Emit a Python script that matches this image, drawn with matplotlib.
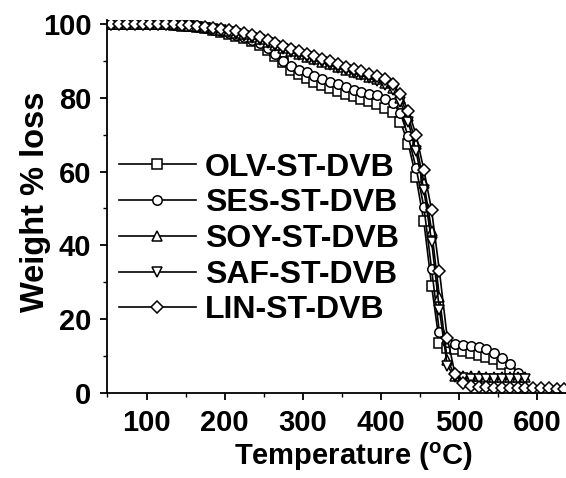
import matplotlib
matplotlib.use("Agg")
import matplotlib.pyplot as plt
from matplotlib.ticker import MultipleLocator

plt.rcParams['font.family'] = ['Liberation Sans', 'DejaVu Sans']
plt.rcParams['font.weight'] = 'bold'
plt.rcParams['mathtext.fontset'] = 'custom'
plt.rcParams['mathtext.rm'] = 'Liberation Sans:bold'
plt.rcParams['mathtext.bf'] = 'Liberation Sans:bold'

# temperature (C), one reading every 10 degrees
temp = list(range(55, 645, 10))

olv = [100, 100, 100, 100, 100, 99.9, 99.9, 99.8, 99.7, 99.5, 99.3, 99.0, 98.7, 98.3, 97.8,
       97.3, 96.7, 96.0, 95.2, 94.2, 93.0, 91.3, 89.5, 87.6, 86.3, 85.2, 84.3, 83.5, 82.6, 81.8,
       81.0, 80.3, 79.7, 79.0, 78.3, 77.3, 76.0, 73.5, 67.5, 58.5, 46.5, 29.0, 13.5, 12.3, 11.9,
       11.4, 10.9, 10.3, 9.7, 9.2, 7.9, 5.5]
ses = [100, 100, 100, 100, 100, 99.9, 99.9, 99.8, 99.7, 99.6, 99.4, 99.1, 98.8, 98.4, 98.0,
       97.5, 96.9, 96.3, 95.5, 94.7, 93.5, 91.8, 90.0, 88.6, 87.6, 86.9, 85.9, 85.0, 84.3, 83.6,
       82.8, 82.1, 81.6, 81.1, 80.6, 79.7, 78.6, 75.8, 69.5, 61.0, 50.5, 33.5, 16.5, 13.8, 13.4,
       13.1, 12.8, 12.4, 11.9, 10.9, 9.6, 8.0, 5.5]
soy = [100, 100, 100, 100, 100, 100, 99.9, 99.9, 99.8, 99.7, 99.5, 99.3, 99.0, 98.7, 98.4,
       98.0, 97.6, 97.1, 96.5, 95.9, 95.1, 94.3, 93.4, 92.6, 91.8, 91.1, 90.4, 89.7, 89.0, 88.3,
       87.6, 86.9, 86.3, 85.6, 84.9, 84.0, 82.7, 80.0, 75.0, 67.5, 57.0, 44.0, 26.0, 9.0, 4.8,
       4.6, 4.6, 4.6, 4.5, 4.5, 4.5, 4.5, 4.5, 4.5]
saf = [100, 100, 100, 100, 100, 100, 99.9, 99.8, 99.7, 99.6, 99.4, 99.2, 98.9, 98.6, 98.2,
       97.8, 97.3, 96.8, 96.2, 95.5, 94.8, 94.0, 93.2, 92.4, 91.6, 90.9, 90.2, 89.5, 88.8, 88.1,
       87.4, 86.7, 86.0, 85.3, 84.5, 83.5, 82.0, 78.8, 73.5, 65.5, 55.0, 41.0, 22.5, 7.5, 4.3,
       4.1, 4.0, 4.0, 4.0, 3.9, 3.9, 3.9, 3.9, 3.9]
lin = [100, 100, 100, 100, 100, 100, 99.9, 99.9, 99.8, 99.7, 99.6, 99.4, 99.2, 98.9, 98.6,
       98.3, 97.9, 97.5, 97.0, 96.5, 95.7, 94.9, 94.0, 93.2, 92.5, 91.8, 91.2, 90.5, 89.8, 89.1,
       88.4, 87.7, 87.1, 86.5, 85.8, 85.0, 83.6, 81.0, 76.5, 70.0, 60.5, 49.5, 33.0, 15.0, 5.2,
       2.8, 2.0, 1.7, 1.6, 1.5, 1.5, 1.4, 1.4, 1.4, 1.3, 1.3, 1.3, 1.2, 1.2]

names = ['OLV-ST-DVB', 'SES-ST-DVB', 'SOY-ST-DVB', 'SAF-ST-DVB', 'LIN-ST-DVB']
markers = ['s', 'o', '^', 'v', 'D']

fig = plt.figure(figsize=(5.66, 4.78), dpi=100)
ax = fig.add_axes([0.1885, 0.1772, 0.8115, 0.781])

for w, name, m in zip([olv, ses, soy, saf, lin], names, markers):
    ms = 6.3 if m == 'D' else 6.8
    ax.plot(temp[:len(w)], w, color='black', lw=1.2, marker=m, ms=ms,
            mfc='white', mec='black', mew=1.1, label=name)

ax.set_xlim(49, 637)
ax.set_ylim(0, 101)
ax.xaxis.set_major_locator(MultipleLocator(100))
ax.xaxis.set_minor_locator(MultipleLocator(50))
ax.yaxis.set_major_locator(MultipleLocator(20))
ax.yaxis.set_minor_locator(MultipleLocator(10))
ax.spines['top'].set_visible(False)
ax.spines['right'].set_visible(False)
ax.spines['left'].set_linewidth(1.3)
ax.spines['bottom'].set_linewidth(1.3)
ax.tick_params(which='major', direction='out', length=5, width=1.3, labelsize=21, pad=6)
ax.tick_params(which='minor', direction='out', length=3, width=1.0)

ax.set_xlabel(r'Temperature ($^\mathbf{o}$C)', fontsize=21, fontweight='bold')
ax.set_ylabel('Weight % loss', fontsize=23.5, fontweight='bold')
ax.xaxis.set_label_coords(0.537, -0.128)
ax.yaxis.set_label_coords(-0.121, 0.514)

leg = ax.legend(loc='center left', bbox_to_anchor=(0.210, 0.50),
                bbox_transform=fig.transFigure, frameon=False, fontsize=23,
                handlelength=2.4, handletextpad=0.3, labelspacing=0.18,
                borderpad=0, borderaxespad=0)
for t in leg.get_texts():
    t.set_fontweight('bold')

fig.savefig('out.png', dpi=100)
